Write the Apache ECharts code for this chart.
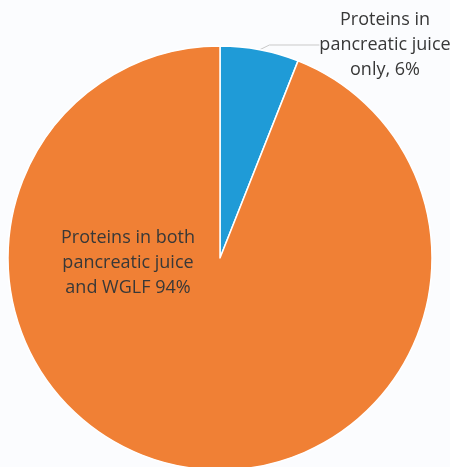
<!DOCTYPE html>
<html>
<head>
<meta charset="utf-8">
<script src="https://cdn.jsdelivr.net/npm/echarts@6/dist/echarts.min.js"></script>
<style>
  html, body { margin: 0; padding: 0; background: #fbfcfe; }
  #chart { width: 450px; height: 467px; }
</style>
</head>
<body>
<div id="chart"></div>
<script>
// Protein overlap shares (percent)
const categories = [
  'Proteins in\npancreatic juice\nonly',
  'Proteins in both\npancreatic juice\nand WGLF'
];
const values = [6, 94];
const colors = ['#1f9bd7', '#f08035'];

const chart = echarts.init(document.getElementById('chart'), null, { renderer: 'canvas' });

const labelFont = {
  fontFamily: '"Open Sans", sans-serif',
  fontSize: 18,
  lineHeight: 25,
  color: '#383838',
  align: 'center',
  overflow: 'none'
};

chart.setOption({
  backgroundColor: '#fbfcfe',
  animation: false,
  series: [{
    type: 'pie',
    center: [220, 258],
    radius: 212,
    startAngle: 90,
    clockwise: true,
    itemStyle: { borderColor: '#ffffff', borderWidth: 1.5 },
    data: categories.map((name, i) => ({
      name,
      value: values[i],
      itemStyle: { color: colors[i] },
      label: i === 0
        ? Object.assign({ show: true, position: 'outside', edgeDistance: 0 }, labelFont)
        : Object.assign({ show: true, position: 'inside' }, labelFont),
      labelLine: i === 0
        ? { show: true, length: 0, length2: 50, lineStyle: { color: '#c9c9c9', width: 1 } }
        : { show: false }
    })),
    label: {
      formatter: p => {
        const lines = p.name.split('\n');
        const last = lines.length - 1;
        lines[last] = lines[last] + (p.dataIndex === 0 ? ', ' : ' ') + p.value + '%';
        return lines.join('\n');
      }
    },
    labelLayout: params => params.dataIndex === 0
      ? { x: 385, y: 45, align: 'center', verticalAlign: 'middle' }
      : { x: 128, y: 263, align: 'center', verticalAlign: 'middle' }
  }]
});
</script>
</body>
</html>
